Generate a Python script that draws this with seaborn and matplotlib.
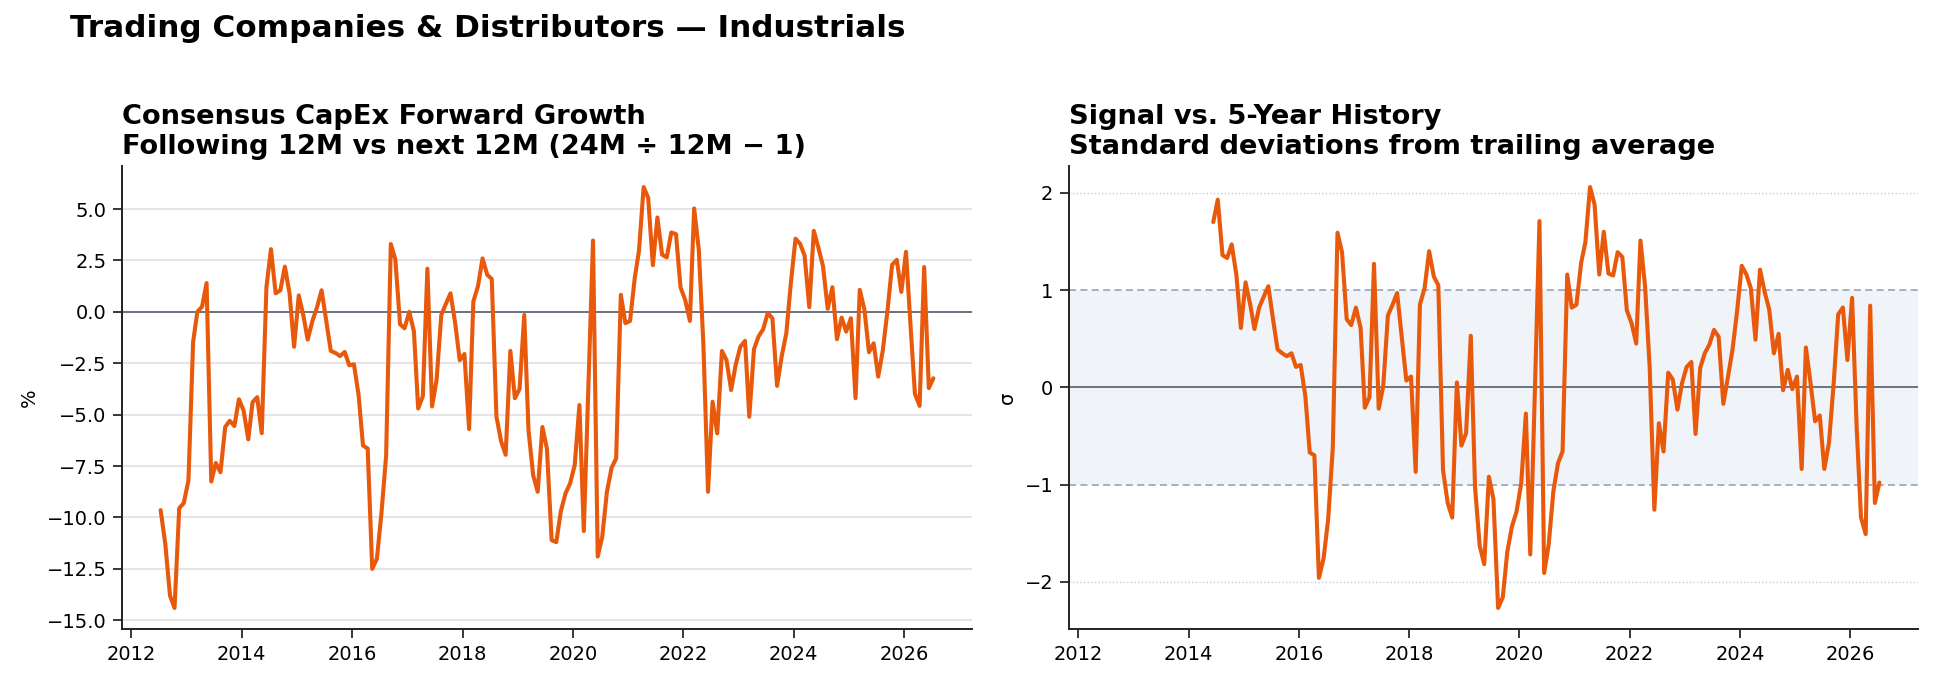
import numpy as np
import pandas as pd
import matplotlib
matplotlib.use("Agg")
import matplotlib.pyplot as plt
import matplotlib.dates as mdates
from matplotlib.ticker import MultipleLocator
import seaborn as sns

# ---------------- data ----------------
growth_start = "2012-07-13"
growth_pct = [
    -9.64, -11.3, -13.8, -14.4, -9.55, -9.3, -8.2, -1.45, 0.0, 0.25, 1.4,
    -8.25, -7.35, -7.8, -5.6, -5.3, -5.55, -4.25, -4.8, -6.2, -4.4, -4.15, -5.9,
    1.2, 3.05, 0.9, 1.05, 2.2, 0.9, -1.7, 0.8, -0.2, -1.35, -0.45, 0.2, 1.05,
    -0.4, -1.9, -2.0, -2.15, -1.95, -2.6, -2.55, -4.05, -6.5, -6.65, -12.5,
    -12.0, -9.8, -7.0, 3.3, 2.55, -0.6, -0.8, 0.0, -0.95, -4.7, -4.1, 2.1,
    -4.6, -3.3, -0.15, 0.4, 0.9, -0.55, -2.35, -2.05, -5.7, 0.5, 1.25, 2.6,
    1.8, 1.6, -5.1, -6.3, -6.95, -1.9, -4.2, -3.75, -0.15, -5.75, -7.95, -8.75,
    -5.6, -6.65, -11.1, -11.2, -9.7, -8.83, -8.35, -7.45, -4.53, -10.66, -3.55,
    3.47, -11.9, -10.94, -8.75, -7.58, -7.13, 0.83, -0.55, -0.44, 1.64, 2.97,
    6.07, 5.54, 2.27, 4.59, 2.78, 2.65, 3.86, 3.78, 1.19, 0.58, -0.44, 5.03,
    3.02, -1.53, -8.75, -4.37, -5.91, -1.9, -2.34, -3.8, -2.58, -1.69, -1.41,
    -5.1, -1.82, -1.2, -0.84, -0.06, -0.31, -3.6, -2.18, -1.04, 1.40, 3.56,
    3.3, 2.73, 0.23, 3.94, 3.1, 2.21, 0.15, 1.2, -1.33, -0.28, -0.96, -0.31,
    -4.2, 1.07, 0.1, -1.96, -1.53, -3.15, -1.85, 0.1, 2.29, 2.53, 0.97, 2.92,
    -0.79, -3.99, -4.57, 2.18, -3.71, -3.23,
]
zscore_start = "2014-06-13"
zscore = [
    1.70, 1.93, 1.36, 1.33, 1.47, 1.16, 0.61, 1.08, 0.85, 0.60, 0.82, 0.93,
    1.04, 0.71, 0.39, 0.35, 0.32, 0.35, 0.21, 0.23, -0.09, -0.67, -0.70, -1.96,
    -1.76, -1.36, -0.62, 1.59, 1.39, 0.70, 0.64, 0.82, 0.61, -0.21, -0.10,
    1.27, -0.22, 0.01, 0.74, 0.85, 0.97, 0.51, 0.07, 0.11, -0.87, 0.85, 1.02,
    1.40, 1.14, 1.05, -0.85, -1.19, -1.34, 0.05, -0.60, -0.47, 0.53, -1.02,
    -1.63, -1.82, -0.92, -1.15, -2.27, -2.16, -1.69, -1.43, -1.28, -0.99,
    -0.27, -1.72, -0.02, 1.71, -1.91, -1.62, -1.07, -0.78, -0.66, 1.16, 0.82,
    0.85, 1.28, 1.49, 2.06, 1.88, 1.16, 1.60, 1.17, 1.15, 1.39, 1.34, 0.79,
    0.66, 0.45, 1.51, 1.03, 0.21, -1.26, -0.37, -0.66, 0.15, 0.08, -0.23, 0.04,
    0.21, 0.26, -0.48, 0.20, 0.35, 0.44, 0.59, 0.52, -0.17, 0.10, 0.39, 0.78,
    1.25, 1.16, 1.02, 0.49, 1.21, 0.98, 0.80, 0.35, 0.55, -0.03, 0.18, -0.02,
    0.11, -0.84, 0.41, 0.04, -0.35, -0.29, -0.84, -0.57, 0.04, 0.75, 0.82,
    0.28, 0.92, -0.44, -1.34, -1.51, 0.84, -1.19, -0.98,
]
suptitle = "Trading Companies & Distributors \u2014 Industrials"
left_title = "Consensus CapEx Forward Growth\nFollowing 12M vs next 12M (24M \u00f7 12M \u2212 1)"
right_title = "Signal vs. 5-Year History\nStandard deviations from trailing average"

growth_dates = pd.date_range(growth_start, periods=len(growth_pct), freq=pd.DateOffset(months=1))
z_dates = pd.date_range(zscore_start, periods=len(zscore), freq=pd.DateOffset(months=1))
df_g = pd.DataFrame({"date": growth_dates, "val": growth_pct})
df_z = pd.DataFrame({"date": z_dates, "val": zscore})

# ---------------- style ----------------
sns.set_style("ticks")
plt.rcParams["font.family"] = ["DejaVu Sans"]
plt.rcParams["text.color"] = "black"
plt.rcParams["axes.labelcolor"] = "black"
plt.rcParams["axes.titlecolor"] = "black"
plt.rcParams["axes.edgecolor"] = "#222222"
plt.rcParams["axes.linewidth"] = 1.0
plt.rcParams["xtick.color"] = "#222222"
plt.rcParams["ytick.color"] = "#222222"
plt.rcParams["xtick.labelcolor"] = "black"
plt.rcParams["ytick.labelcolor"] = "black"

DPI = 140
fig = plt.figure(figsize=(1934 / DPI, 679 / DPI), dpi=DPI)
ax1 = fig.add_axes([122 / 1934, 1 - 629 / 679, 850 / 1934, 463 / 679])
ax2 = fig.add_axes([1069 / 1934, 1 - 629 / 679, 849 / 1934, 463 / 679], sharex=ax1)

LINE = "#e8590c"
ZERO = "#6b7280"

# left
ax1.grid(axis="y", color="#dedee3", lw=0.8)
ax1.set_axisbelow(True)
ax1.axhline(0, color=ZERO, lw=1.0, zorder=1)
sns.lineplot(data=df_g, x="date", y="val", ax=ax1, color=LINE, lw=2.1, zorder=3)
ax1.set_ylabel("%", fontsize=10)
ax1.set_xlabel("")
ax1.yaxis.set_major_locator(MultipleLocator(2.5))
ax1.set_title(left_title, loc="left", fontsize=14, fontweight="bold", pad=6)

# right
ax2.axhspan(-1, 1, color="#f0f3f8", zorder=0, lw=0)
ax2.axhline(1, color="#9aa8bd", lw=0.9, ls="--", dashes=(4, 2.5), zorder=1)
ax2.axhline(-1, color="#9aa8bd", lw=0.9, ls="--", dashes=(4, 2.5), zorder=1)
ax2.axhline(2, color="#bccadd", lw=0.7, ls=":", zorder=1)
ax2.axhline(-2, color="#bccadd", lw=0.7, ls=":", zorder=1)
ax2.axhline(0, color=ZERO, lw=1.0, zorder=1)
sns.lineplot(data=df_z, x="date", y="val", ax=ax2, color=LINE, lw=2.1, zorder=3)
ax2.set_ylabel("\u03c3", fontsize=10)
ax2.set_xlabel("")
ax2.set_title(right_title, loc="left", fontsize=14, fontweight="bold", pad=6)
ax2.set_yticks([-2, -1, 0, 1, 2])

for ax in (ax1, ax2):
    ax.xaxis.set_major_locator(mdates.YearLocator(2))
    ax.xaxis.set_major_formatter(mdates.DateFormatter("%Y"))
    ax.tick_params(labelsize=10, length=4.5, width=0.9)
    sns.despine(ax=ax)
ax2.tick_params(labelbottom=True)

fig.text(70 / 1934, 1 - 37 / 679, suptitle, fontsize=16, fontweight="bold",
         ha="left", va="baseline")

fig.savefig("out.png", dpi=DPI)
